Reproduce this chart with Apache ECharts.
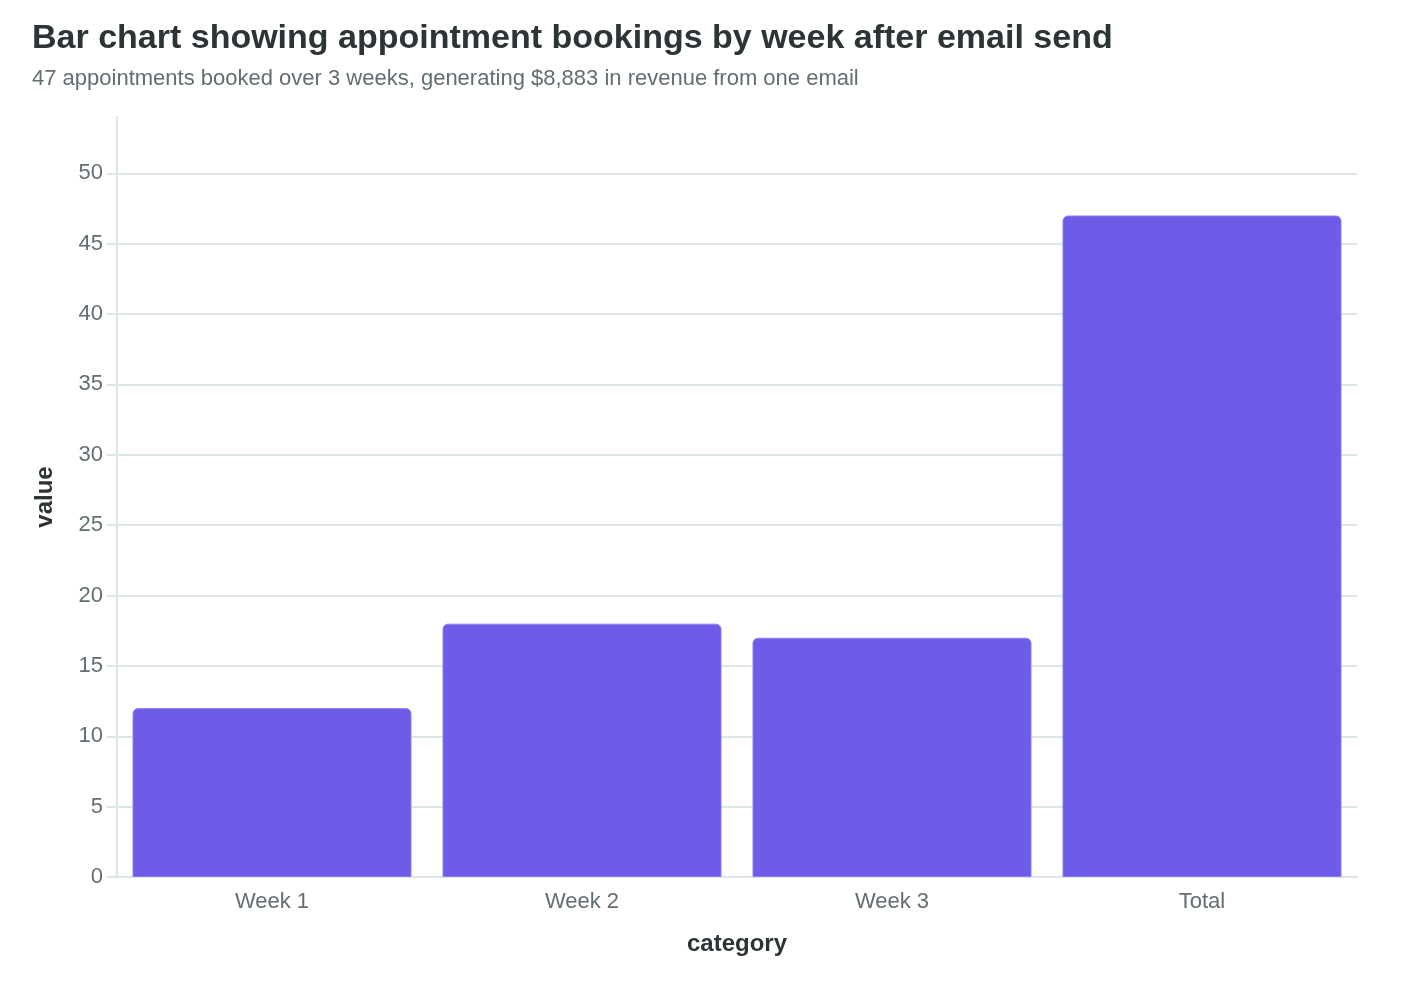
<!DOCTYPE html>
<html>
<head>
<meta charset="utf-8">
<script src="https://cdn.jsdelivr.net/npm/echarts@6/dist/echarts.min.js"></script>
<style>
  html, body { margin: 0; padding: 0; background: #fff; }
  #chart { width: 1406px; height: 984px; }
</style>
</head>
<body>
<div id="chart"></div>
<script>
var categories = ['Week 1', 'Week 2', 'Week 3', 'Total'];
var bookings = [12, 18, 17, 47];
var yTicks = [0, 5, 10, 15, 20, 25, 30, 35, 40, 45, 50];

var chart = echarts.init(document.getElementById('chart'));
var font = 'Liberation Sans, Arial, sans-serif';
var option = {
    backgroundColor: '#ffffff',
    title: {
        text: 'Bar chart showing appointment bookings by week after email send',
        subtext: '47 appointments booked over 3 weeks, generating $8,883 in revenue from one email',
        left: 27,
        top: 17,
        itemGap: 12,
        textStyle: { fontFamily: font, fontSize: 34, fontWeight: 'bold', color: '#2d3436' },
        subtextStyle: { fontFamily: font, fontSize: 22, color: '#636e72' }
    },
    grid: { left: 117, right: 49, top: 117, bottom: 107 },
    xAxis: {
        type: 'category',
        data: categories,
        name: 'category',
        nameLocation: 'middle',
        nameGap: 55,
        nameTextStyle: { fontFamily: font, fontSize: 24, fontWeight: 'bold', color: '#2d3436' },
        axisLine: { lineStyle: { color: '#dfe6e9', width: 2 } },
        axisTick: { alignWithLabel: true, length: 8, lineStyle: { color: '#dfe6e9', width: 2 } },
        axisLabel: { fontFamily: font, fontSize: 22, color: '#636e72', margin: 14 }
    },
    yAxis: {
        type: 'value',
        min: 0,
        max: 54,
        interval: 5,
        name: 'value',
        nameLocation: 'middle',
        nameGap: 60,
        nameTextStyle: { fontFamily: font, fontSize: 24, fontWeight: 'bold', color: '#2d3436' },
        axisLine: { show: true, lineStyle: { color: '#dfe6e9', width: 2 } },
        axisTick: { show: true, length: 10, lineStyle: { color: '#dfe6e9', width: 2 } },
        axisLabel: {
            fontFamily: font, fontSize: 22, color: '#636e72', margin: 14,
            showMaxLabel: false,
            formatter: function (v) { return yTicks.indexOf(v) >= 0 ? String(v) : ''; }
        },
        splitLine: { show: true, showMaxLine: false, lineStyle: { color: '#dfe6e9', width: 2 } }
    },
    series: [{
        type: 'bar',
        data: bookings,
        barCategoryGap: '10%',
        itemStyle: {
            color: '#6c5ce7',
            borderColor: '#8a7ef0',
            borderWidth: 1,
            borderRadius: [5, 5, 0, 0]
        }
    }]
};
chart.setOption(option);
window.onresize = function () {
    chart.resize();
};
</script>
</body>
</html>
